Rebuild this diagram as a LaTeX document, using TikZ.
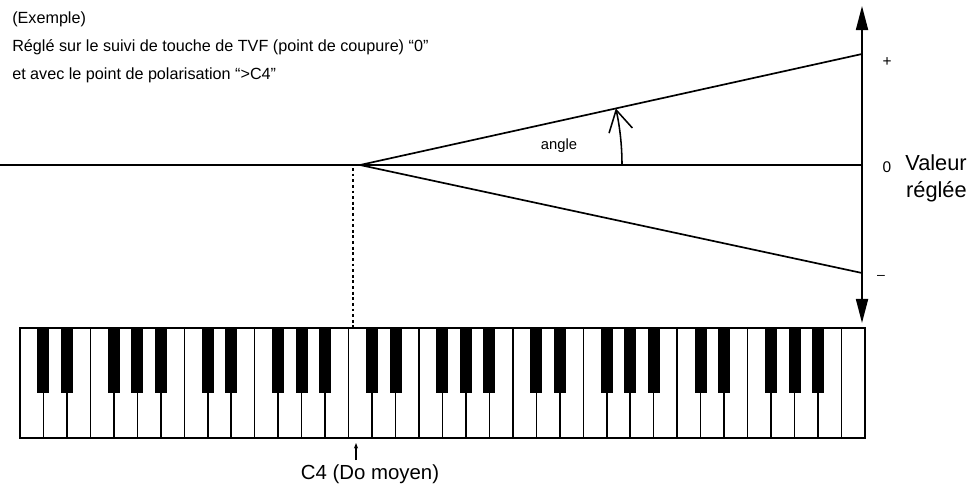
\documentclass[tikz,border=0pt]{standalone}
\usepackage{fontspec}
\setmainfont{Liberation Sans}
\usetikzlibrary{arrows.meta}
\usetikzlibrary{positioning}
\tikzset{
    line/.style={
           draw=black, line width=1.2pt,
           },
    axis/.style={
           draw=black, line width=1.3pt,
           {Triangle[length=0.6cm,width=0.3cm]}-{Triangle[length=0.6cm,width=0.3cm]},
           },
    guide/.style={
           draw=black, line width=1pt,
           dash pattern=on 2pt off 2pt,
           },
    anglemark/.style={
           draw=black, line width=1.1pt,
           -{Straight Barb[length=15pt,width=17pt,line width=1.1pt]},
           },
    keywhite/.style={
           draw=black, line width=1.1pt, fill=white,
           },
    keyblack/.style={
           fill=black,
           },
    kbframe/.style={
           draw=black, line width=1.4pt,
           },
    label/.style={
           inner sep=0pt,
           text=black,
           },
}

\begin{document}
\begin{tikzpicture}[x=0.025cm,y=-0.025cm]
        \useasboundingbox (0,0) rectangle (970,492);

        % heading text, top left
        \node[label,
            anchor=north west,
            align=left,
            font=\fontsize{11.5}{19.6}\selectfont] (TXT_HEAD) at (12,12)
        {(Exemple)\\
         Réglé sur le suivi de touche de TVF (point de coupure) ``0''\\
         et avec le point de polarisation ``>C4''};

        % points of the graph
        \coordinate (P_LEFT)    at (0,165);
        \coordinate (P_PIVOT)   at (360,165);
        \coordinate (P_ZERO)    at (862,165);
        \coordinate (P_PLUS)    at (862,54);
        \coordinate (P_MINUS)   at (862,273);
        \coordinate (AX_TOP)    at (862,6);
        \coordinate (AX_BOT)    at (862,323);
        \coordinate (P_DASHTOP) at (353,168);

        % keyboard corners
        \coordinate (KB_NW) at (20,328);
        \coordinate (KB_SE) at (865,438);
        \coordinate (C4_MARK) at (356,443);

        % labels at the right of the axis
        \node[label, font=\fontsize{11}{13}\selectfont] (LBL_PLUS)  at (887,62)  {+};
        \node[label, font=\fontsize{11}{13}\selectfont] (LBL_ZERO)  at (887,167) {0};
        \node[label, font=\fontsize{10}{12}\selectfont] (LBL_MINUS) at (881,277) {--};
        \node[label,
            anchor=north east,
            align=right,
            font=\fontsize{15.5}{19.5}\selectfont] (LBL_VALEUR) at (967,154)
        {Valeur\\réglée};

        % angle label
        \node[label, font=\fontsize{10.5}{12}\selectfont] (LBL_ANGLE) at (559,146) {angle};

        % middle C
        \node[label, font=\fontsize{14.5}{17}\selectfont] (LBL_C4) at (370,474) {C4 (Do moyen)};

        % keyboard: 36 white keys, C to C
        \foreach \k in {0,...,35}
            \draw[keywhite] (20+\k*23.47,328) rectangle ++(23.47,110);
        % black keys, 5 octaves
        \foreach \o in {0,...,4}
            \foreach \b in {1,2,4,5,6}
                \fill[keyblack] (20+7*\o*23.47+\b*23.47-6,328) rectangle ++(12,65);
        \draw[kbframe] (KB_NW) rectangle (KB_SE);

        % draw the lines of the graph
        \path
            (P_LEFT)    edge[line]  (P_ZERO)
            (P_PIVOT)   edge[line]  (P_PLUS)
            (P_PIVOT)   edge[line]  (P_MINUS)
            (P_DASHTOP) edge[guide] (P_DASHTOP |- KB_NW)
            ;
        \draw[axis] (AX_BOT) -- (AX_TOP);

        % the angle
        \draw[anglemark] (P_PIVOT) ++(262,0) arc[start angle=0, end angle=-12.47, radius=262];

        % pointer to C4
        \draw[line width=0.8pt, -{Stealth[length=4pt,width=3pt]}] (LBL_C4.north -| C4_MARK) ++(0,-4) -- (C4_MARK);

\end{tikzpicture}
\end{document}
